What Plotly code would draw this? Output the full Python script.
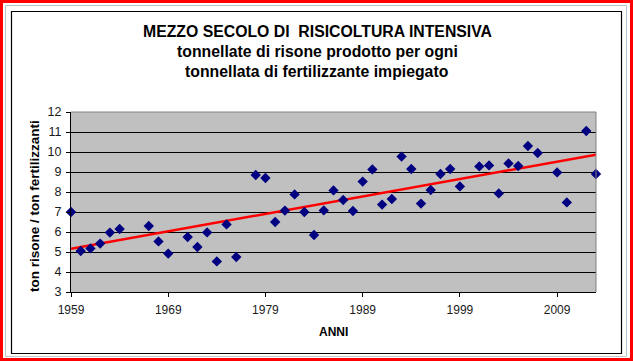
import numpy as np
import plotly.graph_objects as go

# ---- data ----
years = [1959, 1960, 1961, 1962, 1963, 1964, 1967, 1968, 1969, 1971, 1972, 1973,
         1974, 1975, 1976, 1978, 1979, 1980, 1981, 1982, 1983, 1984, 1985, 1986,
         1987, 1988, 1989, 1990, 1991, 1992, 1993, 1994, 1995, 1996, 1997, 1998,
         1999, 2001, 2002, 2003, 2004, 2005, 2006, 2007, 2009, 2010, 2012, 2013]
values = [7.0, 5.05, 5.18, 5.42, 5.97, 6.15, 6.3, 5.53, 4.92, 5.75, 5.25, 5.98,
          4.53, 6.38, 4.75, 8.85, 8.7, 6.5, 7.07, 7.88, 7.0, 5.85, 7.08, 8.08,
          7.6, 7.05, 8.52, 9.13, 7.37, 7.65, 9.77, 9.15, 7.42, 8.1, 8.9, 9.15,
          8.28, 9.28, 9.33, 7.93, 9.43, 9.3, 10.3, 9.95, 8.98, 7.48, 11.05, 8.9]
x_ticks = [1959, 1969, 1979, 1989, 1999, 2009]
y_ticks = [3, 4, 5, 6, 7, 8, 9, 10, 11, 12]
title_lines = ["MEZZO SECOLO DI  RISICOLTURA INTENSIVA",
               "tonnellate di risone prodotto per ogni",
               "tonnellata di fertilizzante impiegato"]
x_title = "ANNI"
y_title = "ton risone / ton fertilizzanti"

# linear trendline (as in the spreadsheet)
slope, intercept = np.polyfit(years, values, 1)
trend_x = [x_ticks[0], years[-1]]
trend_y = [slope * v + intercept for v in trend_x]

# ---- layout helpers (pixel -> paper) ----
W, H = 633, 361
L, R, T, B = 71, 596, 112, 292
def px(x):
    return (x - L) / (R - L)
def py(y):
    return (B - y) / (B - T)

FONT = "Liberation Sans, Arial, sans-serif"

fig = go.Figure()
fig.add_trace(go.Scatter(x=trend_x, y=trend_y, mode="lines",
                         line=dict(color="#FF0000", width=2.5),
                         hoverinfo="skip", showlegend=False, cliponaxis=False))
fig.add_trace(go.Scatter(x=years, y=values, mode="markers",
                         marker=dict(symbol="diamond", size=8, color="#000080",
                                     line=dict(width=0)),
                         showlegend=False, cliponaxis=False))

shapes = [
    dict(type="rect", xref="paper", yref="paper", x0=px(1.5), x1=px(631.5),
         y0=py(1.5), y1=py(359.5), line=dict(color="#FF0000", width=3), layer="above"),
    dict(type="rect", xref="paper", yref="paper", x0=px(5.5), x1=px(626.5),
         y0=py(5.5), y1=py(356.5), line=dict(color="#BCC6C6", width=1), layer="above"),
    dict(type="rect", xref="paper", yref="paper", x0=px(11.5), x1=px(621.5),
         y0=py(11.5), y1=py(353.5), line=dict(color="#000000", width=1.2), layer="above"),
    dict(type="path", xref="paper", yref="paper",
         path="M 0 1 L 1 1 L 1 0", line=dict(color="#808080", width=1), layer="above"),
]

annotations = []
for text, yc in zip(title_lines, [31.5, 51.5, 72]):
    annotations.append(dict(text=f"<b>{text}</b>", xref="paper", yref="paper",
                            x=px(317), y=py(yc), xanchor="center", yanchor="middle",
                            showarrow=False, font=dict(family=FONT, size=15.8, color="#000000")))
annotations.append(dict(text=f"<b>{x_title}</b>", xref="paper", yref="paper",
                        x=px(333), y=py(332), xanchor="center", yanchor="middle",
                        showarrow=False, font=dict(family=FONT, size=12, color="#000000")))
annotations.append(dict(text=f"<b>{y_title}</b>", xref="paper", yref="paper",
                        x=px(34), y=py(206), xanchor="center", yanchor="middle",
                        textangle=-90, showarrow=False,
                        font=dict(family=FONT, size=13.5, color="#000000")))

fig.update_layout(
    width=W, height=H,
    margin=dict(l=L, r=W - R, t=T, b=H - B),
    paper_bgcolor="#FFFFFF", plot_bgcolor="#C0C0C0",
    font=dict(family=FONT, size=12, color="#000000"),
    shapes=shapes, annotations=annotations,
    xaxis=dict(range=[x_ticks[0], years[-1]], tickvals=x_ticks,
               showgrid=False, zeroline=False, showline=True, linecolor="#000000",
               linewidth=1, ticks="outside", ticklen=4, tickcolor="#000000",
               ticklabelstandoff=3,
               tickfont=dict(size=12, family=FONT, color="#1a1a1a")),
    yaxis=dict(range=[y_ticks[0], y_ticks[-1]], tickvals=y_ticks,
               showgrid=True, gridcolor="#000000", gridwidth=1, zeroline=False,
               showline=True, linecolor="#000000", linewidth=1,
               ticks="outside", ticklen=4, tickcolor="#000000",
               ticklabelstandoff=2,
               tickfont=dict(size=12.5, family=FONT, color="#1a1a1a")),
)

fig.write_html("out.html", config={"displayModeBar": False},
               post_script="document.body.style.margin='0px';document.body.style.overflow='hidden';")
